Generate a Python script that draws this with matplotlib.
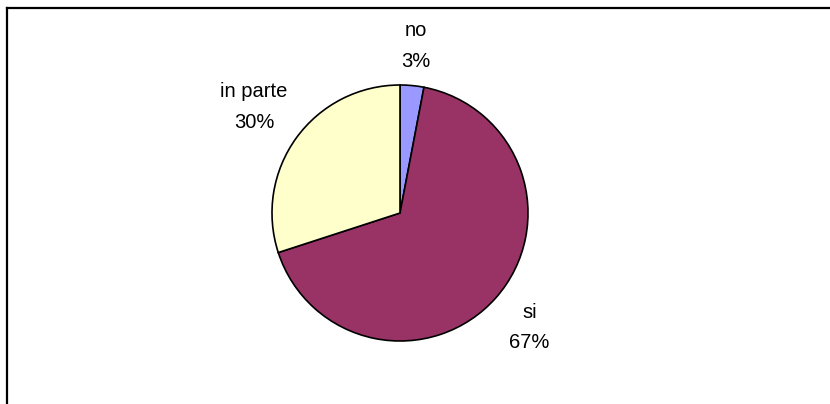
import numpy as np
import matplotlib.pyplot as plt
from matplotlib.lines import Line2D

# Data
categories = ["no", "si", "in parte"]
percent = [3, 67, 30]
colors = ["#9999FF", "#993366", "#FFFFCC"]

# Label distance from centre (in radii), Excel puts them a bit unevenly
label_dist = [1.31, 1.35, 1.41]

plt.rcParams['font.family'] = ['Liberation Sans', 'DejaVu Sans']

fig = plt.figure(figsize=(8.3, 4.04), dpi=100)
ax = fig.add_axes([0, 0, 1, 1])

cx, cy, r = 400, 404 - 213, 128
wedges, _ = ax.pie(percent, colors=colors, startangle=90, counterclock=False,
                   center=(cx, cy), radius=r, frame=True,
                   wedgeprops=dict(edgecolor='black', linewidth=1.2))
ax.set_xlim(0, 830)
ax.set_ylim(0, 404)
ax.set_aspect('equal')
ax.axis('off')

for w, cat, p, d in zip(wedges, categories, percent, label_dist):
    ang = np.deg2rad((w.theta1 + w.theta2) / 2)
    x = cx + d * r * np.cos(ang)
    y = cy + d * r * np.sin(ang)
    ax.text(x, y, f"{cat}\n{p}%", ha='center', va='center', fontsize=14.5,
            linespacing=1.75, multialignment='center')

# chart frame (only top and left edges visible)
fig.add_artist(Line2D([7 / 830, 1], [1 - 7.5 / 404, 1 - 7.5 / 404],
                      transform=fig.transFigure, color='black', linewidth=1.6))
fig.add_artist(Line2D([7 / 830, 7 / 830], [0, 1 - 7.5 / 404],
                      transform=fig.transFigure, color='black', linewidth=1.6))

fig.savefig("out.png", dpi=100)
